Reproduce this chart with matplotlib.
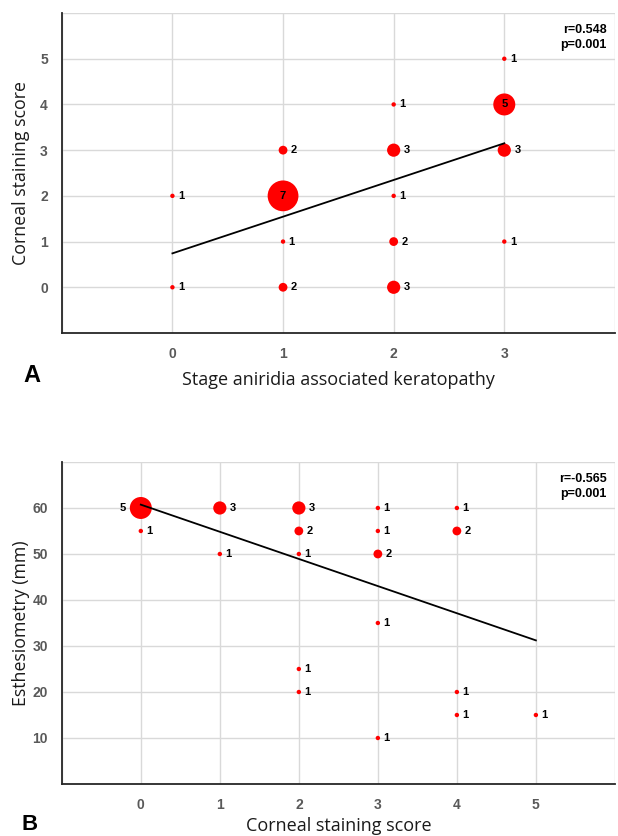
import numpy as np
import matplotlib
matplotlib.use("Agg")
import matplotlib.pyplot as plt

# Panel A: stage AAK vs corneal staining score (x, y, number of eyes)
a_x = [0, 0, 1, 1, 1, 1, 2, 2, 2, 2, 2, 3, 3, 3, 3]
a_y = [0, 2, 0, 1, 2, 3, 0, 1, 2, 3, 4, 1, 3, 4, 5]
a_n = [1, 1, 2, 1, 7, 2, 3, 2, 1, 3, 1, 1, 3, 5, 1]

# Panel B: corneal staining score vs esthesiometry
b_x = [0, 0, 1, 1, 2, 2, 2, 2, 2, 3, 3, 3, 3, 3, 4, 4, 4, 4, 5]
b_y = [60, 55, 60, 50, 60, 55, 50, 25, 20, 60, 55, 50, 35, 10, 60, 55, 20, 15, 15]
b_n = [5, 1, 3, 1, 3, 2, 1, 1, 1, 1, 1, 2, 1, 1, 1, 2, 1, 1, 1]

RED = "#ff0000"
GRID = "#d9d9d9"
TICK = "#595959"
LABFONT = ["Open Sans", "DejaVu Sans"]
NUMFONT = ["Liberation Sans", "DejaVu Sans"]

fig = plt.figure(figsize=(6.18, 8.36), dpi=100)


def bubble_panel(ax, x, y, n, xlim, ylim, xticks, yticks, xlabel, ylabel,
                 stats, inside=(), left=(), xpad=7):
    x = np.array(x); y = np.array(y); n = np.array(n)
    ax.set_xlim(*xlim)
    ax.set_ylim(*ylim)
    ax.set_xticks(xticks)
    ax.set_yticks(yticks)
    for v in range(xlim[0], xlim[1] + 1):
        ax.axvline(v, color=GRID, lw=1, zorder=0)
    for v in list(yticks) + [ylim[1]]:
        ax.axhline(v, color=GRID, lw=1, zorder=0)
    for s in ["top", "right"]:
        ax.spines[s].set_visible(False)
    for s in ["left", "bottom"]:
        ax.spines[s].set_color("#262626")
        ax.spines[s].set_linewidth(1.3)
    ax.tick_params(length=0, pad=10, colors=TICK, labelsize=10)
    for lab in ax.get_xticklabels() + ax.get_yticklabels():
        lab.set_family(NUMFONT)
        lab.set_fontweight("bold")

    # weighted least squares regression line
    k, b = np.polyfit(x, y, 1, w=np.sqrt(n))
    xs = np.array([x.min(), x.max()])
    ax.plot(xs, k * xs + b, color="black", lw=1.3, zorder=3)

    d = 4.4 * n * 0.72  # marker diameter in points
    ax.scatter(x, y, s=d ** 2, color=RED, edgecolors="none", zorder=2)
    for xi, yi, ni, di in zip(x, y, n, d):
        if (xi, yi) in inside:
            ax.annotate(str(ni), (xi, yi), ha="center", va="center",
                        fontsize=8, fontweight="bold", family=NUMFONT, zorder=4)
        elif (xi, yi) in left:
            ax.annotate(str(ni), (xi, yi), xytext=(-di / 2 - 3, 0),
                        textcoords="offset points", ha="right", va="center",
                        fontsize=8, fontweight="bold", family=NUMFONT, zorder=4)
        else:
            ax.annotate(str(ni), (xi, yi), xytext=(di / 2 + 2.5, 0),
                        textcoords="offset points", ha="left", va="center",
                        fontsize=8, fontweight="bold", family=NUMFONT, zorder=4)

    ax.text(0.985, 0.965, stats, transform=ax.transAxes, ha="right", va="top",
            fontsize=9, fontweight="bold", family=NUMFONT, linespacing=1.3)
    ax.set_xlabel(xlabel, fontsize=13, family=LABFONT, color="#1a1a1a", labelpad=xpad)
    ax.set_ylabel(ylabel, fontsize=12.8, family=LABFONT, color="#1a1a1a")
    ax.yaxis.set_label_coords(-0.058, 0.5)


axA = fig.add_axes([0.100, 0.6017, 0.895, 0.3827])
bubble_panel(axA, a_x, a_y, a_n, (-1, 4), (-1, 6), [0, 1, 2, 3], range(0, 6),
             "Stage aniridia associated keratopathy", "Corneal staining score",
             "r=0.548\np=0.001", inside=[(1, 2), (3, 4)])

axB = fig.add_axes([0.100, 0.0622, 0.895, 0.3852])
bubble_panel(axB, b_x, b_y, b_n, (-1, 6), (0, 70), range(0, 6), range(10, 70, 10),
             "Corneal staining score", "Esthesiometry (mm)",
             "r=-0.565\np=0.001", left=[(0, 60)], xpad=4)

# panel letters
fig.text(32 / 618, 1 - 375 / 836, "A", fontsize=17, fontweight="bold",
         family=NUMFONT, ha="center", va="center")
fig.text(30 / 618, 1 - 824 / 836, "B", fontsize=16, fontweight="bold",
         family=NUMFONT, ha="center", va="center")

fig.savefig("out.png", dpi=100)
